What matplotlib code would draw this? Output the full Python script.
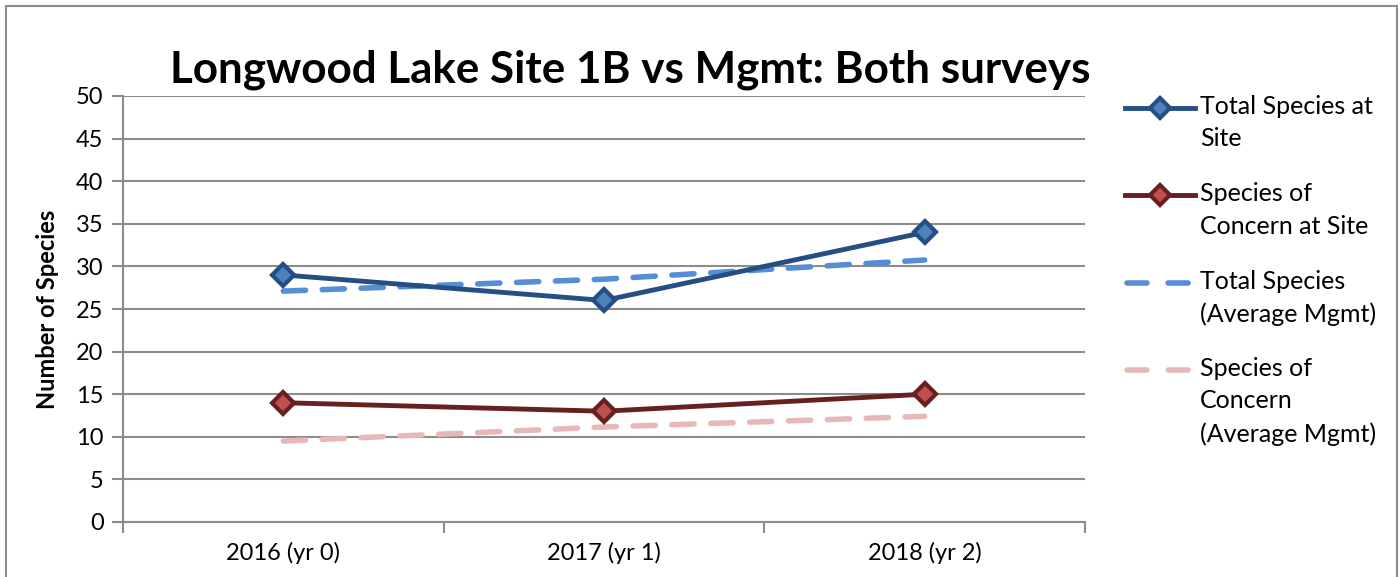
import matplotlib
matplotlib.use("Agg")
import matplotlib.pyplot as plt
from matplotlib.patches import Rectangle
from matplotlib.lines import Line2D
import numpy as np

categories = ["2016 (yr 0)", "2017 (yr 1)", "2018 (yr 2)"]
total_site = [29, 26, 34]
concern_site = [14, 13, 15]
total_avg = [27.1, 28.5, 30.75]
concern_avg = [9.5, 11.15, 12.4]
yticks = list(range(0, 55, 5))
labels = ['Total Species at\nSite', 'Species of\nConcern at Site',
          'Total Species\n(Average Mgmt)', 'Species of\nConcern\n(Average Mgmt)']

plt.rcParams['font.family'] = ['Lato', 'DejaVu Sans']

W, H = 1400, 577
fig = plt.figure(figsize=(W/100, H/100), dpi=100)
ax = fig.add_axes([123/W, 1-522/H, (1085-123)/W, (522-96)/H])

x = np.arange(len(categories))
styles = [
    dict(color='#254E85', lw=3.5, marker='D', ms=11, mfc='#4F81BD', mec='#254E85', mew=3, zorder=5),
    dict(color='#66201F', lw=3.5, marker='D', ms=11, mfc='#C0504D', mec='#66201F', mew=3, zorder=5),
    dict(color='#558ED5', lw=4, ls=(0, (4, 3)), dash_capstyle='round', zorder=4),
    dict(color='#E6B9B8', lw=4, ls=(0, (4, 3)), dash_capstyle='round', zorder=4),
]
series = [total_site, concern_site, total_avg, concern_avg]
for vals, st, lab in zip(series, styles, labels):
    ax.plot(x, vals, label=lab, **st)

ax.set_xlim(-0.5, 2.5)
ax.set_ylim(0, 50)
ax.set_yticks(yticks)
ax.set_yticklabels([str(v) for v in yticks], fontsize=17)
ax.yaxis.grid(True, color='#8C8C8C', lw=1.5)
ax.set_axisbelow(True)
ax.set_xticks(x)
ax.set_xticklabels(categories, fontsize=17)
ax.tick_params(axis='x', length=0, pad=14)
ax.set_xticks([-0.5, 0.5, 1.5, 2.5], minor=True)
ax.tick_params(axis='x', which='minor', length=8, width=1.5, color='#8C8C8C')
ax.tick_params(axis='y', length=8, width=1.5, color='#8C8C8C', pad=6)
for s in ['top', 'right']:
    ax.spines[s].set_visible(False)
for s in ['left', 'bottom']:
    ax.spines[s].set_color('#8C8C8C')
    ax.spines[s].set_linewidth(1.5)

ax.set_ylabel('Number of Species', fontsize=17, fontweight='bold', labelpad=12)

fig.text(630/W, 1-70/H, 'Longwood Lake Site 1B vs Mgmt: Both surveys',
         fontsize=31.7, fontweight='bold', ha='center', va='center')

# legend drawn manually so the handle sits on the first text line
leg_y = [108, 195, 283, 370]
for yy, st, lab in zip(leg_y, styles, labels):
    st2 = dict(st)
    st2.pop('zorder', None)
    if 'marker' in st2:
        st2['markevery'] = [1]
        st2['ms'] = 10
        xs = [1125/W, 1160/W, 1195/W]
        ys = [1-yy/H]*3
    else:
        st2['ls'] = (0, (3.6, 3.8))
        xs = [1127/W, 1193/W]
        ys = [1-yy/H]*2
    fig.add_artist(Line2D(xs, ys, transform=fig.transFigure, **st2))
    fig.text(1200/W, 1-(yy-13)/H, lab, fontsize=18, ha='left', va='top', linespacing=1.5)

fig.patches.append(Rectangle((6/W, -0.1), (1397-6)/W, 1.1-6/H, transform=fig.transFigure,
                             fill=False, edgecolor='#8C8C8C', lw=1.5))

fig.savefig('out.png', dpi=100)
